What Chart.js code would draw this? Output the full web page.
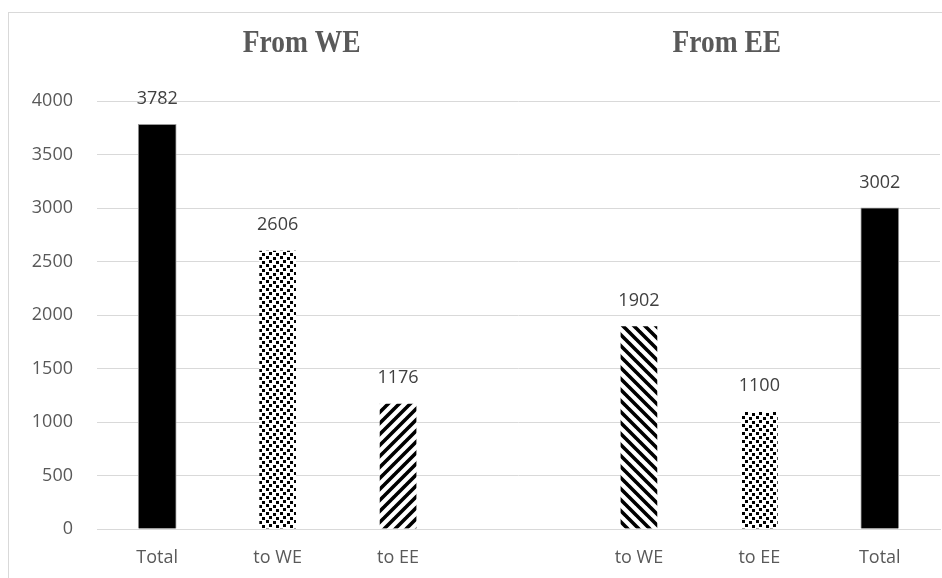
<!DOCTYPE html>
<html>
<head>
<meta charset="utf-8">
<script src="https://cdn.jsdelivr.net/npm/chart.js@4/dist/chart.umd.min.js"></script>
<style>
  html, body { margin: 0; padding: 0; background: #fff; }
  #wrap { width: 942px; height: 578px; }
</style>
</head>
<body>
<div id="wrap"><canvas id="flows" width="942" height="578"></canvas></div>
<script>
const categories = ['Total', 'to WE', 'to EE', '', 'to WE', 'to EE', 'Total'];
const flows = [3782, 2606, 1176, null, 1902, 1100, 3002];
const fills = ['solid', 'dots', 'fwd', 'none', 'back', 'dots', 'solid'];
const groupTitles = ['From WE', 'From EE'];
const yTicks = [0, 500, 1000, 1500, 2000, 2500, 3000, 3500, 4000];

const canvas = document.getElementById('flows');
const ctx = canvas.getContext('2d');

function tile(w, h, paint) {
  const c = document.createElement('canvas');
  c.width = w; c.height = h;
  const g = c.getContext('2d');
  g.fillStyle = '#fff';
  g.fillRect(0, 0, w, h);
  paint(g);
  return ctx.createPattern(c, 'repeat');
}

// confetti-like square dots, staggered rows with a little jitter
const dotted = tile(14, 8, g => {
  g.fillStyle = '#000';
  [[0, 0], [7, 1], [3, 4], [10, 5]].forEach(([x, y]) => g.fillRect(x, y, 3, 3));
});

function stripes(forward) {
  const s = 11;
  return tile(s, s, g => {
    g.strokeStyle = '#000';
    g.lineWidth = 3.6;
    g.beginPath();
    for (let k = -1; k <= 1; k++) {
      if (forward) {
        g.moveTo(k * s - 1, s + 1); g.lineTo(k * s + s + 1, -1);
      } else {
        g.moveTo(k * s - 1, -1); g.lineTo(k * s + s + 1, s + 1);
      }
    }
    g.stroke();
  });
}

const fillStyles = { solid: '#000', dots: dotted, fwd: stripes(true), back: stripes(false), none: 'transparent' };
const edgeColors = fills.map(f => f === 'solid' ? '#9a9a9a' : 'rgba(0,0,0,0)');

// frame, group headings and value labels
const decorations = {
  id: 'decorations',
  beforeDraw(chart) {
    const c = chart.ctx;
    c.save();
    c.strokeStyle = '#d9d9d9';
    c.lineWidth = 1;
    c.strokeRect(8.5, 12.5, 960, 600);
    c.restore();
  },
  afterDatasetsDraw(chart) {
    const c = chart.ctx;
    const x = chart.scales.x;
    c.save();
    c.fillStyle = '#595959';
    c.textAlign = 'center';
    c.textBaseline = 'middle';
    c.font = 'bold 25px "Liberation Serif"';
    [1.2, 4.73].forEach((pos, i) => {
      c.save();
      c.translate(x.getPixelForValue(pos), 44);
      c.scale(1.1, 1.3);
      c.fillText(groupTitles[i], 0, 0);
      c.restore();
    });
    c.fillStyle = '#404040';
    c.font = '18px "Open Sans"';
    chart.getDatasetMeta(0).data.forEach((bar, i) => {
      if (flows[i] === null) return;
      c.fillText(String(flows[i]), bar.x, bar.y - 25);
    });
    c.restore();
  }
};

new Chart(ctx, {
  type: 'bar',
  data: {
    labels: categories,
    datasets: [{
      data: flows,
      backgroundColor: fills.map(f => fillStyles[f]),
      borderColor: edgeColors,
      borderWidth: 1,
      barThickness: 38
    }]
  },
  options: {
    responsive: false,
    animation: false,
    events: [],
    layout: { padding: { top: 101, right: 2, left: 0, bottom: 0 } },
    plugins: { legend: { display: false }, tooltip: { enabled: false } },
    scales: {
      x: {
        grid: { display: false, drawTicks: false },
        border: { color: '#d9d9d9' },
        ticks: { color: '#595959', font: { family: 'Open Sans', size: 18 }, padding: 18, maxRotation: 0 },
        afterFit(s) { s.height = 49; }
      },
      y: {
        min: 0,
        max: 4000,
        afterBuildTicks(s) { s.ticks = yTicks.map(v => ({ value: v })); },
        grid: { color: '#d9d9d9', drawTicks: false },
        border: { display: false },
        ticks: {
          color: '#595959',
          font: { family: 'Open Sans', size: 18 },
          padding: 24,
          callback: v => String(v)
        },
        afterFit(s) { s.width = 97; }
      }
    }
  },
  plugins: [decorations]
});
</script>
</body>
</html>
